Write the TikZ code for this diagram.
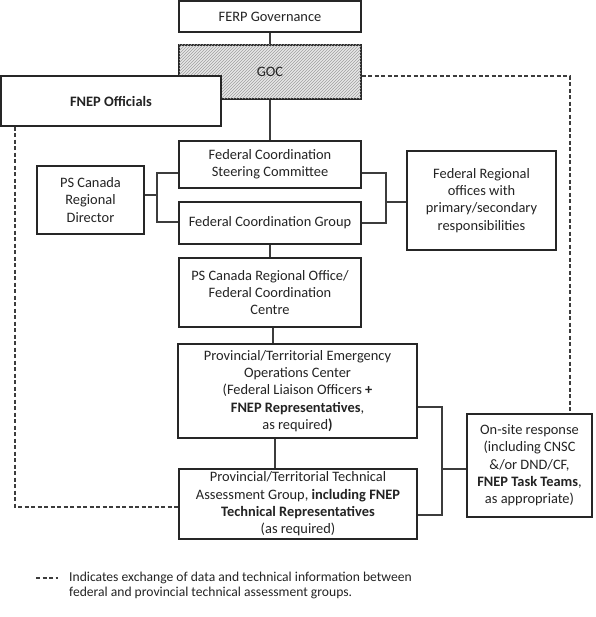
\documentclass[tikz,border=0pt]{standalone}
\usepackage{fontspec}
\setmainfont{Carlito}
\usetikzlibrary{patterns}
\definecolor{linec}{RGB}{60,60,60}
\definecolor{txtc}{RGB}{35,35,35}
\tikzset{
  box/.style={draw=black!85, line width=1.2pt, fill=white, inner sep=0pt, align=center,
    text=txtc, font=\fontsize{14.4}{17.3}\selectfont},
  conn/.style={draw=linec, line width=1.3pt},
  dconn/.style={draw=linec, line width=1.1pt, dash pattern=on 4pt off 2.5pt},
}
\begin{document}
\begin{tikzpicture}[x=1pt,y=-1pt]
\useasboundingbox (0,0) rectangle (595,617);
% boxes (centre, size)
\node[box, minimum width=182, minimum height=31] (ferp) at (270,16.5) {FERP Governance};
\node[box, minimum width=182, minimum height=54, fill=gray!18,
      postaction={pattern=north east lines, pattern color=gray!75}] (goc) at (270,72) {};
\node[text=txtc, font=\fontsize{14.4}{17.3}\selectfont] at (goc.center) {GOC};
\node[box, minimum width=220, minimum height=50] (fnep) at (111,101) {\textbf{FNEP Officials}};
\node[box, minimum width=182, minimum height=47] (fcsc) at (270,164.5) {Federal Coordination\\Steering Committee};
\node[box, minimum width=182, minimum height=42] (fcg) at (270,223) {Federal Coordination Group};
\node[box, minimum width=107, minimum height=68] (psrd) at (90.5,200) {PS Canada\\Regional\\Director};
\node[box, minimum width=149, minimum height=99] (fro) at (481.5,200.5) {Federal Regional\\offices with\\primary/secondary\\responsibilities};
\node[box, minimum width=182, minimum height=69] (psro) at (270,292.5) {PS Canada Regional Office/\\Federal Coordination\\Centre};
\node[box, minimum width=239, minimum height=94] (eoc) at (297.5,391) {Provincial/Territorial Emergency\\Operations Center\\(Federal Liaison Officers \textbf{+}\\\textbf{FNEP Representatives},\\as required\textbf{)}};
\node[box, minimum width=238, minimum height=70] (tech) at (298,504) {Provincial/Territorial Technical\\Assessment Group, \textbf{including FNEP}\\\textbf{Technical Representatives}\\(as required)};
\node[box, minimum width=125, minimum height=103] (onsite) at (529.5,465.5) {On-site response\\(including CNSC\\\&/or DND/CF,\\\textbf{FNEP Task Teams},\\as appropriate)};
% coordinates for brackets
\coordinate (lb1) at (157,173);
\coordinate (lb2) at (157,222);
\coordinate (lbm) at (157,195);
\coordinate (rb1) at (386,173);
\coordinate (rb2) at (386,223);
\coordinate (rbm) at (386,202);
\coordinate (ob1) at (442,407);
\coordinate (ob2) at (442,515);
\coordinate (obm) at (442,469);
% vertical connectors
\draw[conn] (ferp.south) -- (goc.north);
\draw[conn] (goc.south) -- (fcsc.north);
\draw[conn] (fcg.south) -- (psro.north);
\draw[conn] (psro.south -| 273,0) -- (eoc.north -| 273,0);
\draw[conn] (eoc.south -| 275,0) -- (tech.north -| 275,0);
% left bracket
\draw[conn] (psrd.east |- lbm) -- (lbm);
\draw[conn] (fcsc.west |- lb1) -- (lb1) -- (lb2) -- (fcg.west |- lb2);
% right bracket
\draw[conn] (fcsc.east |- rb1) -- (rb1) -- (rb2) -- (fcg.east |- rb2);
\draw[conn] (rbm) -- (fro.west |- rbm);
% bottom bracket
\draw[conn] (eoc.east |- ob1) -- (ob1) -- (ob2) -- (tech.east |- ob2);
\draw[conn] (obm) -- (onsite.west |- obm);
% dashed exchanges
\draw[dconn] (goc.east |- 0,76) -- (570,76) -- (onsite.north -| 570,0);
\draw[dconn] (fnep.south -| 15,0) -- (15,507) -- (tech.west |- 0,507);
% legend
\coordinate (lg1) at (36,578);
\coordinate (lg2) at (58,578);
\draw[dconn] (lg1) -- (lg2);
\node[anchor=west, align=left, text=txtc, inner sep=0pt, font=\fontsize{13.6}{15.2}\selectfont] (legend) at (69,585.5)
  {Indicates exchange of data and technical information between\\federal and provincial technical assessment groups.};
\end{tikzpicture}
\end{document}
